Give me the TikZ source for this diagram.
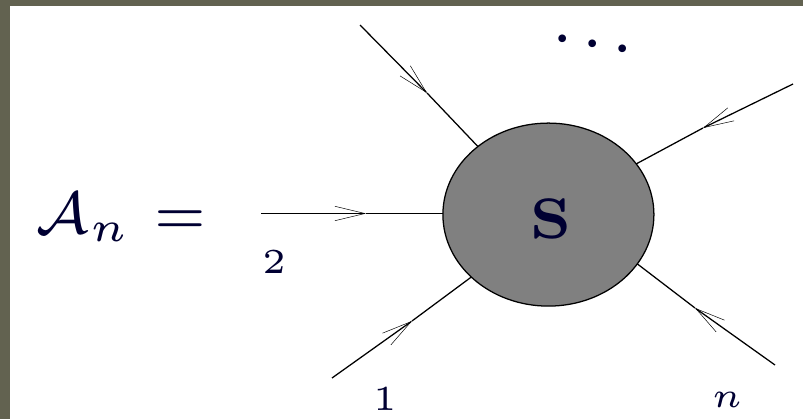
\documentclass[tikz,border=0pt]{standalone}
\usetikzlibrary{arrows.meta,shapes.geometric}

\definecolor{inkblue}{RGB}{0,0,50}
\definecolor{bandgray}{RGB}{98,98,80}
\definecolor{blobgray}{RGB}{128,128,128}

\tikzset{
  leg/.style={draw=black, line width=0.9pt},
  fermion/.style={leg, -{Straight Barb[length=0.75cm,width=0.36cm,line width=0.35pt]}},
  leglabel/.style={text=inkblue, anchor=base, inner sep=0pt, font=\tiny, scale=5},
}

\begin{document}
\begin{tikzpicture}[x=1cm, y=1cm]

  \useasboundingbox (0,0) rectangle (20.075,10.475);

  % ---- Frame ----
  \fill[bandgray] (0,0) rectangle (0.25,10.475);
  \fill[bandgray] (0,10.325) rectangle (20.075,10.475);

  % ---- Blob ----
  \node[ellipse, draw=black, line width=0.9pt, fill=blobgray,
        minimum width=5.275cm, minimum height=4.575cm, inner sep=0pt, outer sep=0pt] (blob) at (13.71,5.11) {};
  \node[text=inkblue, inner sep=0pt, font=\scriptsize, scale=5.8] (blobname) at (13.78,5.0) {$\mathbf{S}$};

  % ---- Amplitude ----
  \node[text=inkblue, anchor=base west, inner sep=0pt, font=\scriptsize, scale=6]
    (amp) at (0.85,4.65) {$\mathcal{A}_n\mkern 6mu{=}$};

  % Leg 1
  \coordinate (start1) at (8.3,1.025);
  \coordinate (tip1) at (10.3,2.45);
  \draw[fermion] (start1) -- (tip1);
  \draw[leg] (tip1) -- (blob.219.4);
  \node[leglabel] (label1) at (9.62,0.225) {$1$};

  % Leg 2
  \coordinate (start2) at (6.525,5.1375);
  \coordinate (tip2) at (9.15,5.1375);
  \draw[fermion] (start2) -- (tip2);
  \draw[leg] (tip2) -- (blob.west |- tip2);
  \node[leglabel] (label2) at (6.85,3.65) {$2$};

  % Leg 3
  \coordinate (start3) at (9.0,9.85);
  \coordinate (tip3) at (10.675,8.15);
  \draw[fermion] (start3) -- (tip3);
  \draw[leg] (tip3) -- (blob.136);

  % Leg 4
  \coordinate (start4) at (19.825,8.375);
  \coordinate (tip4) at (17.575,7.275);
  \draw[fermion] (start4) -- (tip4);
  \draw[leg] (tip4) -- (blob.30.6);

  % Leg n
  \coordinate (startn) at (19.375,1.35);
  \coordinate (tipn) at (17.375,2.775);
  \draw[fermion] (startn) -- (tipn);
  \draw[leg] (tipn) -- (blob.-29.8);
  \node[leglabel] (labeln) at (18.175,0.3) {$n$};

  % ---- Dots ----
  \node[rotate=-9.5, text=inkblue, inner sep=0pt, font=\tiny, scale=9]
    (dots) at (14.82,9.375) {.\hspace{0.4pt}.\hspace{0.4pt}.};

\end{tikzpicture}
\end{document}
